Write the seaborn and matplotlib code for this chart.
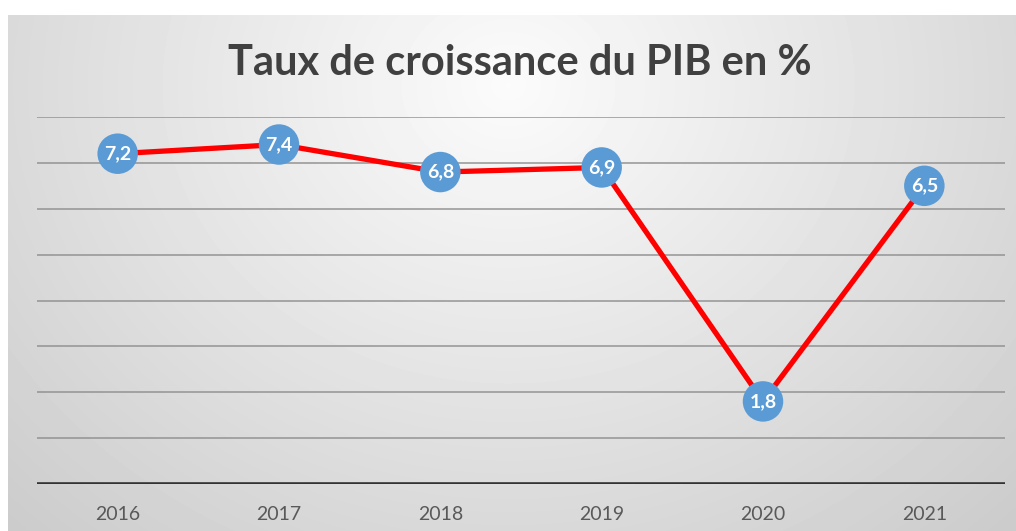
import numpy as np
import pandas as pd
import matplotlib
matplotlib.use("Agg")
import matplotlib.pyplot as plt
import seaborn as sns

years = ["2016", "2017", "2018", "2019", "2020", "2021"]
growth = [7.2, 7.4, 6.8, 6.9, 1.8, 6.5]
labels = ["7,2", "7,4", "6,8", "6,9", "1,8", "6,5"]
title = "Taux de croissance du PIB en %"

sns.set_style("white")
plt.rcParams['font.family'] = ['Lato', 'DejaVu Sans']

W, H = 1016, 531
fig = plt.figure(figsize=(W / 100, H / 100), dpi=100)
fig.patch.set_facecolor("white")

# radial gradient background
bg = fig.add_axes([8 / W, 0, 1 - 8 / W, 1 - 15 / H])
yy, xx = np.mgrid[0:516, 0:1008]
r = np.sqrt(((xx - 500) / 650.0) ** 2 + ((yy - 70) / 560.0) ** 2)
shade = np.clip(0.985 - 0.17 * r, 0.80, 0.985)
bg.imshow(shade, cmap="gray", vmin=0, vmax=1, aspect="auto", interpolation="bilinear")
bg.axis("off")

ax = fig.add_axes([37 / W, (H - 484) / H, 968 / W, 367 / H])
ax.patch.set_alpha(0)

df = pd.DataFrame({"pos": np.arange(len(years)), "growth": growth})
sns.lineplot(data=df, x="pos", y="growth", ax=ax, color="#ff0000", linewidth=3.8, zorder=2)
sns.scatterplot(data=df, x="pos", y="growth", ax=ax, color="#5b9bd5", s=850,
                edgecolor="none", zorder=3)
for i, (v, t) in enumerate(zip(growth, labels)):
    ax.text(i, v, t, ha="center", va="center", color="white", fontsize=14,
            fontweight="bold", zorder=4)

ax.set_xlim(-0.5, len(years) - 0.5)
ax.set_ylim(0, 8)
ax.set_yticks(np.arange(1, 9))
ax.yaxis.grid(True, color="#8f8f8f", linewidth=1.3, alpha=0.8)
ax.set_axisbelow(True)
ax.axhline(0, color="#333333", linewidth=2.6, zorder=1)
ax.set_xticks(df["pos"])
ax.set_xticklabels(years, color="#595959", fontsize=14)
ax.tick_params(axis="x", length=0, pad=16)
ax.tick_params(axis="y", length=0, labelleft=False)
ax.set_xlabel("")
ax.set_ylabel("")
for s in ax.spines.values():
    s.set_visible(False)

fig.text(520 / W, 1 - 63 / H, title, ha="center", va="center", fontsize=30,
         fontweight="bold", color="#404040")

fig.savefig("out.png", dpi=100)
